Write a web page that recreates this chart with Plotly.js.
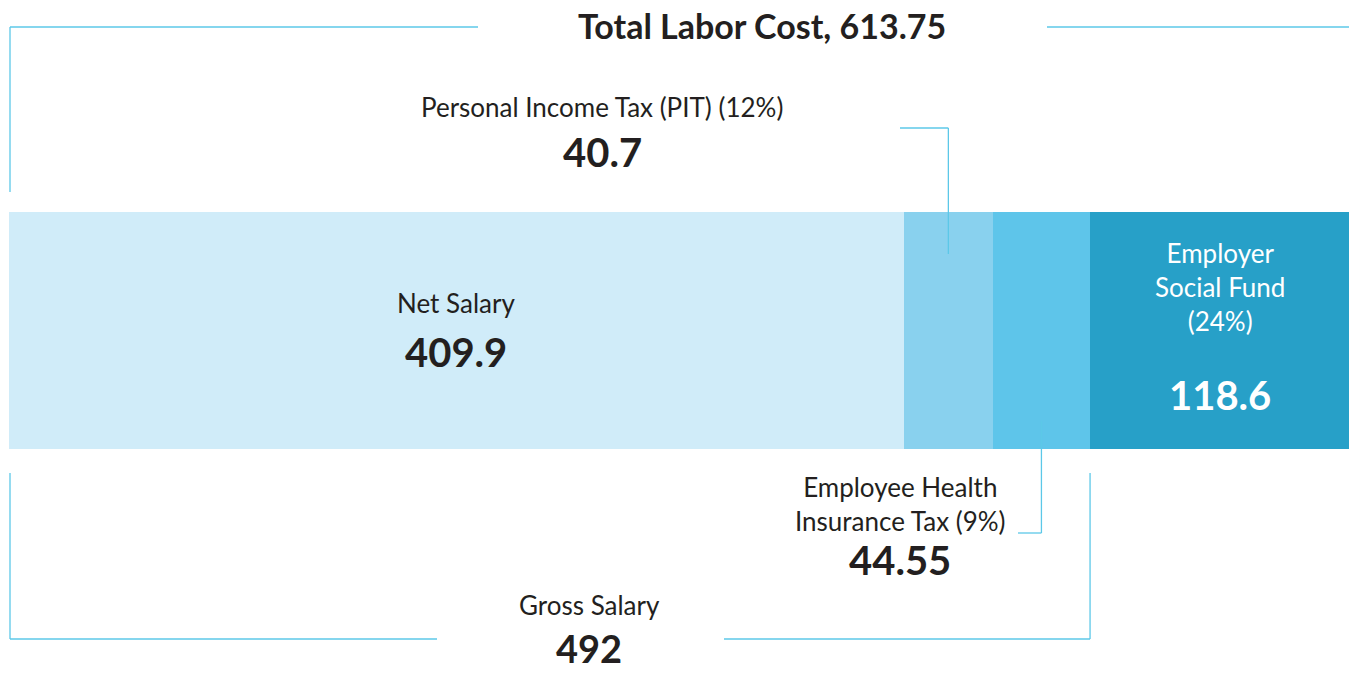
<!DOCTYPE html>
<html>
<head>
<meta charset="utf-8">
<script src="https://cdn.plot.ly/plotly-3.0.1.min.js"></script>
<style>
html,body{margin:0;padding:0;background:#fff;}
#chart{width:1349px;height:674px;}
</style>
</head>
<body>
<div id="chart"></div>
<script>
// ---- data ----
const segmentNames = ['Net Salary', 'Personal Income Tax (PIT)', 'Employee Health Insurance Tax', 'Employer Social Fund'];
const segmentValues = [409.9, 40.7, 44.55, 118.6];
const segmentRates = ['', '12%', '9%', '24%'];
const grossSalaryValue = 492;
const totalLaborCostValue = 613.75;
const titleText = 'Total Labor Cost';
const grossLabel = 'Gross Salary';

// ---- styles ----
const segmentColors = ['#D0ECF9', '#89D1EE', '#5EC5EA', '#27A0C8'];
const lineColor = '#5CC8E8';
const textColor = '#231F20';
const FONT = 'Lato, "Open Sans", sans-serif';
const W = 1349, H = 674;
const PLOT_L = 9;
const px = x => x / W;
const py = y => (H - y) / H;
// horizontal pixel -> data units on the fixed x axis
const pd = x => (x - PLOT_L) / (W - PLOT_L) * totalLaborCostValue;

// cumulative positions (data units)
const starts = [];
let acc = 0;
segmentValues.forEach(v => { starts.push(acc); acc += v; });
const mids = segmentValues.map((v, i) => starts[i] + v / 2);
const grossEnd = starts[2] + segmentValues[2];

const traces = segmentNames.map((name, i) => ({
  type: 'bar',
  orientation: 'h',
  name: name,
  y: ['cost'],
  x: [segmentValues[i]],
  marker: {color: segmentColors[i], line: {width: 0}},
  hoverinfo: 'skip',
  showlegend: false
}));

const lw = 1.3;
const line = (x0, y0, x1, y1, xref) => ({
  type: 'line', xref: xref || 'paper', yref: 'paper',
  x0: x0, y0: y0, x1: x1, y1: y1,
  line: {color: lineColor, width: lw}
});

const shapes = [
  // top bracket (total)
  line(px(10), py(27), px(478), py(27)),
  line(px(10), py(27), px(10), py(192)),
  line(px(1047), py(27), px(1349), py(27)),
  // PIT connector
  line(pd(900), py(128), mids[1], py(128), 'x'),
  line(mids[1], py(128), mids[1], py(254), 'x'),
  // Health connector
  line(mids[2], py(421), mids[2], py(533), 'x'),
  line(pd(1018), py(533), mids[2], py(533), 'x'),
  // bottom bracket (gross)
  line(px(10), py(473), px(10), py(639)),
  line(px(10), py(639), px(437), py(639)),
  line(pd(724), py(639), grossEnd, py(639), 'x'),
  line(grossEnd, py(473), grossEnd, py(639), 'x')
];

const ann = (text, x, y, size, bold, color, xref) => ({
  xref: xref || 'paper', yref: 'paper', x: x, y: y,
  xanchor: 'center', yanchor: 'middle', showarrow: false,
  borderpad: 0,
  text: bold ? '<b>' + text + '</b>' : text,
  font: {family: FONT, size: size, color: color || textColor}
});

const R = 26, B = 40;
const annotations = [
  ann(titleText + ', ' + totalLaborCostValue, px(762), py(25), 34, true),
  ann(segmentNames[1] + ' (' + segmentRates[1] + ')', px(602), py(107), R, false),
  ann(String(segmentValues[1]), px(602), py(152), B, true),
  ann(segmentNames[0], mids[0], py(303), R, false, textColor, 'x'),
  ann(String(segmentValues[0]), mids[0], py(352), B, true, textColor, 'x'),
  ann('Employer<br>Social Fund<br>(' + segmentRates[3] + ')', mids[3], py(287), R, false, '#ffffff', 'x'),
  ann(String(segmentValues[3]), mids[3], py(395), B, true, '#ffffff', 'x'),
  ann('Employee Health<br>Insurance Tax (' + segmentRates[2] + ')', px(900), py(504), R, false),
  ann(String(segmentValues[2]), px(900), py(560), B, true),
  ann(grossLabel, px(589), py(605), R, false),
  ann(String(grossSalaryValue), px(589), py(648), 38, true)
];

const layout = {
  width: W, height: H,
  margin: {l: 0, r: 0, t: 0, b: 0, pad: 0},
  paper_bgcolor: '#ffffff', plot_bgcolor: '#ffffff',
  barmode: 'stack', bargap: 0,
  xaxis: {domain: [PLOT_L / W, 1], range: [0, totalLaborCostValue], visible: false, fixedrange: true},
  yaxis: {domain: [py(449), py(212)], range: [-0.5, 0.5], visible: false, fixedrange: true, type: 'category'},
  shapes: shapes,
  annotations: annotations,
  showlegend: false
};

Plotly.newPlot('chart', traces, layout, {displayModeBar: false, staticPlot: true});
</script>
</body>
</html>
